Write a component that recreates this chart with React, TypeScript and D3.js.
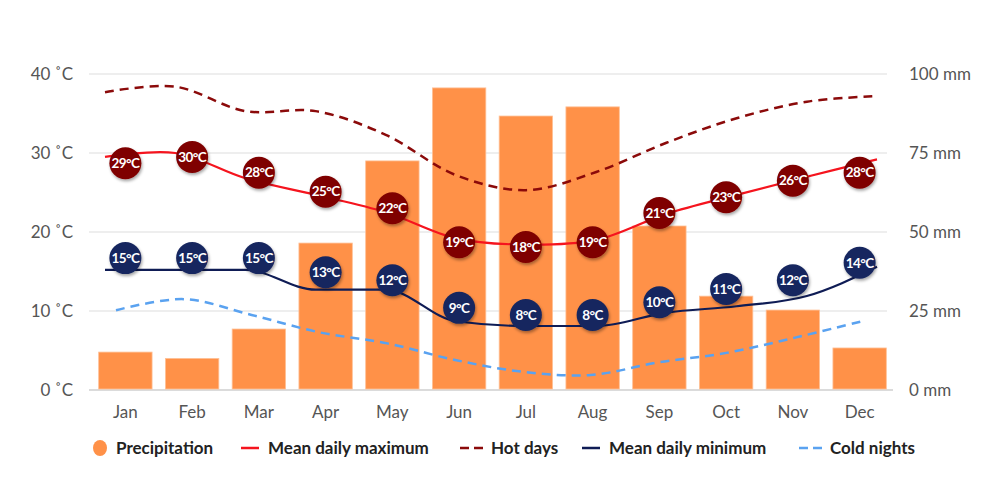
import * as d3 from 'd3';
import React from 'react';

const months = ['Jan', 'Feb', 'Mar', 'Apr', 'May', 'Jun', 'Jul', 'Aug', 'Sep', 'Oct', 'Nov', 'Dec'];
const precipitation = [12, 10, 19.3, 46.5, 72.5, 95.6, 86.7, 89.6, 51.9, 29.7, 25.3, 13.3];
// smoothed line values (°C)
const meanMax = [29.5, 30.0, 26.8, 24.7, 22.5, 19.2, 18.4, 19.0, 22.3, 24.7, 27.0, 29.2];
const hotDays = [37.7, 38.4, 35.3, 35.3, 32.3, 27.2, 25.3, 27.6, 31.3, 34.4, 36.5, 37.2];
const meanMin = [15.2, 15.2, 15.2, 12.7, 12.7, 8.7, 8.1, 8.1, 9.8, 10.6, 11.9, 15.6];
const coldNights = [10.1, 11.5, 9.5, 7.3, 5.9, 3.8, 2.3, 1.9, 3.5, 4.7, 6.6, 8.7];
// bubble positions and labels
const maxBubble = [28.7, 29.5, 27.5, 25.1, 23.0, 18.7, 18.1, 18.7, 22.4, 24.4, 26.5, 27.5];
const maxLabels = [29, 30, 28, 25, 22, 19, 18, 19, 21, 23, 26, 28];
const minBubble = [16.7, 16.7, 16.7, 14.9, 13.9, 10.4, 9.5, 9.5, 11.1, 12.8, 13.9, 16.1];
const minLabels = [15, 15, 15, 13, 12, 9, 8, 8, 10, 11, 12, 14];
const tempTicks = [0, 10, 20, 30, 40];
const rainTicks = [0, 25, 50, 75, 100];

const width = 1000;
const height = 504;
const margin = { top: 74, right: 107, bottom: 114, left: 92 };

const legend = [
	{ name: 'Precipitation', kind: 'dot', color: '#ff9148', x: 100 },
	{ name: 'Mean daily maximum', kind: 'line', color: '#f5141e', x: 241 },
	{ name: 'Hot days', kind: 'dash', color: '#8b0a0a', x: 460 },
	{ name: 'Mean daily minimum', kind: 'line', color: '#0f1c55', x: 582 },
	{ name: 'Cold nights', kind: 'dash', color: '#5aa2f0', x: 799 },
];

export default function App() {
	const innerBottom = height - margin.bottom;
	const x = d3
		.scaleBand()
		.domain(months)
		.range([margin.left, width - margin.right])
		.paddingInner(0.2)
		.paddingOuter(0.1);
	const xc = (m: string) => (x(m) as number) + x.bandwidth() / 2;
	const lineX = d3.scalePoint().domain(months).range([105, 877]);
	const coldX = d3.scalePoint().domain(months).range([116, 862]);
	const yT = d3.scaleLinear().domain([0, 40]).range([innerBottom, margin.top]);
	const yR = d3.scaleLinear().domain([0, 100]).range([innerBottom, margin.top]);

	const mkLine = (xs: any, vals: number[], curve: any) =>
		d3
			.line<number>()
			.x((_, i) => xs(months[i]))
			.y((d) => yT(d))
			.curve(curve)(vals) as string;

	const font = 'Lato, "Open Sans", sans-serif';

	return (
		<svg width={width} height={height} style={{ position: 'absolute', left: 0, top: 0, background: '#fff' }} fontFamily={font}>
			<defs>
				<filter id="shadow" x="-50%" y="-50%" width="200%" height="200%">
					<feDropShadow dx="1" dy="2" stdDeviation="1.5" floodColor="#000" floodOpacity="0.35" />
				</filter>
			</defs>
			{/* grid */}
			{tempTicks.map((t) => (
				<line
					key={t}
					x1={89}
					x2={t === 0 ? 893 : 887}
					y1={yT(t)}
					y2={yT(t)}
					stroke={t === 0 ? '#cfcfcf' : '#dedede'}
					strokeWidth={t === 0 ? 1.5 : 1.2}
				/>
			))}
			{tempTicks.map((t) => (
				<text key={t} x={73} y={yT(t)} dy="0.35em" textAnchor="end" fontSize={17} fill="#555">
					{t} ˚C
				</text>
			))}
			{rainTicks.map((t) => (
				<text key={t} x={909} y={yR(t)} dy="0.35em" fontSize={17} fill="#555">
					{t} mm
				</text>
			))}
			{/* bars */}
			{months.map((m, i) => (
				<rect
					key={m}
					x={x(m)}
					y={yR(precipitation[i])}
					width={x.bandwidth()}
					height={yR(0) - yR(precipitation[i]) - 1}
					fill="#ff9148"
					stroke="#ffc197"
					strokeWidth={0.8}
				/>
			))}
			{months.map((m) => (
				<text key={m} x={xc(m)} y={412} dy="0.35em" textAnchor="middle" fontSize={17} fill="#555">
					{m}
				</text>
			))}
			{/* lines */}
			<path d={mkLine(coldX, coldNights, d3.curveCatmullRom)} fill="none" stroke="#5aa2f0" strokeWidth={2.5} strokeDasharray="9 6" />
			<path d={mkLine(lineX, hotDays, d3.curveCatmullRom)} fill="none" stroke="#8b0a0a" strokeWidth={2.5} strokeDasharray="9 6" />
			<path d={mkLine(lineX, meanMax, d3.curveCatmullRom)} fill="none" stroke="#f5141e" strokeWidth={2.2} />
			<path d={mkLine(lineX, meanMin, d3.curveMonotoneX)} fill="none" stroke="#0f1c55" strokeWidth={2.2} />
			{/* bubbles */}
			{months.map((m, i) => (
				<g key={'max' + m} transform={`translate(${xc(m)},${yT(maxBubble[i])})`}>
					<circle r={16} fill="#7f0000" filter="url(#shadow)" />
					<text dy="0.35em" textAnchor="middle" fontSize={13.5} fontWeight={700} fill="#fff" letterSpacing={-0.6}>
						{maxLabels[i]}°C
					</text>
				</g>
			))}
			{months.map((m, i) => (
				<g key={'min' + m} transform={`translate(${xc(m)},${yT(minBubble[i])})`}>
					<circle r={16} fill="#18275f" filter="url(#shadow)" />
					<text dy="0.35em" textAnchor="middle" fontSize={13.5} fontWeight={700} fill="#fff" letterSpacing={-0.6}>
						{minLabels[i]}°C
					</text>
				</g>
			))}
			{/* legend */}
			{legend.map((l) => (
				<g key={l.name} transform={`translate(${l.x},448)`}>
					{l.kind === 'dot' && <ellipse cx={0} cy={0} rx={7} ry={8} fill={l.color} />}
					{l.kind === 'line' && <line x1={0} x2={18} y1={0} y2={0} stroke={l.color} strokeWidth={2.5} />}
					{l.kind === 'dash' && <line x1={0} x2={23} y1={0} y2={0} stroke={l.color} strokeWidth={2.5} strokeDasharray="9 5" />}
					<text x={l.kind === 'dot' ? 16 : l.kind === 'line' ? 27 : 31} dy="0.35em" fontSize={17} fontWeight={700} fill="#222">
						{l.name}
					</text>
				</g>
			))}
		</svg>
	);
}
